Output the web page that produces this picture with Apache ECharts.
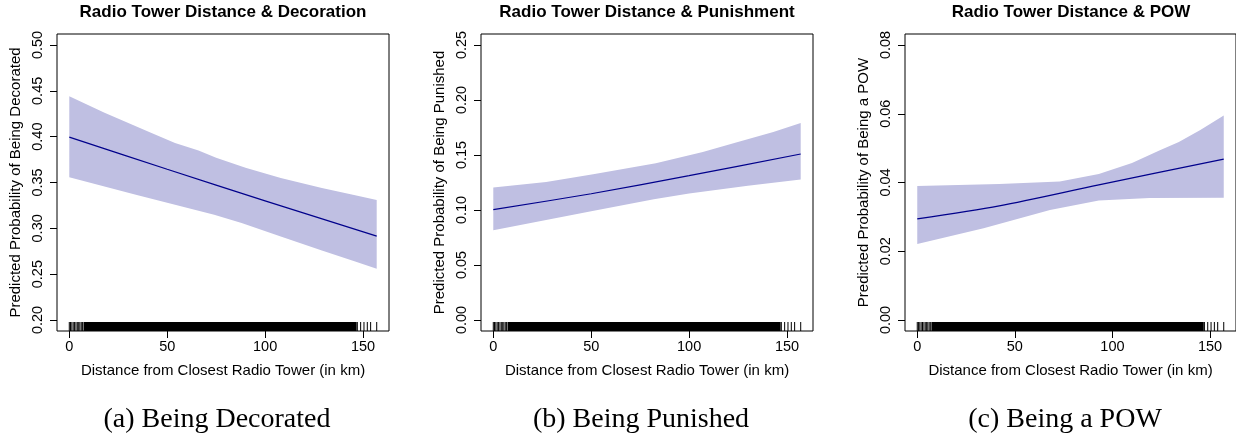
<!DOCTYPE html>
<html>
<head>
<meta charset="utf-8">
<script src="https://cdn.jsdelivr.net/npm/echarts@6/dist/echarts.min.js"></script>
<style>
  html, body { margin: 0; padding: 0; background: #fff; }
  #main { width: 1236px; height: 440px; }
</style>
</head>
<body>
<div id="main"></div>
<script>
const titles = ['Radio Tower Distance & Decoration', 'Radio Tower Distance & Punishment', 'Radio Tower Distance & POW']
const yNames = ['Predicted Probability of Being Decorated', 'Predicted Probability of Being Punished', 'Predicted Probability of Being a POW']
const captions = ['(a) Being Decorated', '(b) Being Punished', '(c) Being a POW']
const xName = 'Distance from Closest Radio Tower (in km)'
const xTicks = [0, 50, 100, 150]
const yTicksDec = [0.2, 0.25, 0.3, 0.35, 0.4, 0.45, 0.5]
const yTicksPun = [0, 0.05, 0.1, 0.15, 0.2, 0.25]
const yTicksPow = [0, 0.02, 0.04, 0.06, 0.08]

// [km, predicted probability]
const decFit = [[0, 0.3995], [50, 0.3645], [100, 0.3300], [157, 0.2915]]
const decUpper = [[0, 0.444], [18, 0.426], [42, 0.404], [54, 0.393], [66, 0.385], [75, 0.377], [90, 0.366], [108, 0.355], [129, 0.344], [146, 0.336], [157, 0.331]]
const decLower = [[0, 0.3556], [34, 0.3366], [74, 0.3148], [88, 0.3057], [108, 0.2911], [129, 0.2758], [146, 0.2638], [157, 0.2558]]

const punFit = [[0, 0.1003], [50, 0.1148], [100, 0.1312], [157, 0.1509]]
const punUpper = [[0, 0.1204], [27, 0.1255], [51, 0.1325], [83, 0.1425], [107, 0.1528], [124, 0.1614], [143, 0.171], [157, 0.1792]]
const punLower = [[0, 0.0815], [50, 0.0988], [82, 0.1097], [100, 0.115], [130, 0.122], [157, 0.1277]]

const powFit = [[0, 0.0294], [42, 0.0332], [93, 0.0393], [157, 0.0468]]
const powUpper = [[0, 0.039], [42, 0.0396], [73, 0.0403], [93, 0.0425], [110, 0.0457], [124, 0.0493], [134, 0.0518], [145, 0.0553], [157, 0.0595]]
const powLower = [[0, 0.0221], [34, 0.0267], [68, 0.032], [93, 0.0348], [119, 0.0355], [157, 0.0356]]

// rug of observed distances (same in all panels)
const rugSparse = [0, 0.6, 1.3, 2, 2.7, 3.4, 4.1, 4.8, 5.4, 6.1, 6.7, 147.1, 148.8, 150.5, 152.2, 153.9, 157]
const rugDense = [8, 9, 10, 11, 12, 13, 14, 15, 16, 17, 18, 19, 20, 21, 22, 23, 24, 25, 26, 27, 28, 29, 30,
  31, 32, 33, 34, 35, 36, 37, 38, 39, 40, 41, 42, 43, 44, 45, 46, 47, 48, 49, 50, 51, 52, 53, 54, 55,
  56, 57, 58, 59, 60, 61, 62, 63, 64, 65, 66, 67, 68, 69, 70, 71, 72, 73, 74, 75, 76, 77, 78, 79, 80,
  81, 82, 83, 84, 85, 86, 87, 88, 89, 90, 91, 92, 93, 94, 95, 96, 97, 98, 99, 100, 101, 102, 103, 104,
  105, 106, 107, 108, 109, 110, 111, 112, 113, 114, 115, 116, 117, 118, 119, 120, 121, 122, 123, 124,
  125, 126, 127, 128, 129, 130, 131, 132, 133, 134, 135, 136, 137, 138, 139, 140, 141, 142, 143, 144, 145, 146]

const bandColor = 'rgb(191,191,226)'
const fitColor = '#00008B'
const sans = '"Liberation Sans", Arial, sans-serif'

const panels = [
  { left: 57, ymin: 0.188, ymax: 0.512, yTicks: yTicksDec, fit: decFit, up: decUpper, lo: decLower, center: 223, capX: 217 },
  { left: 481, ymin: -0.01, ymax: 0.26, yTicks: yTicksPun, fit: punFit, up: punUpper, lo: punLower, center: 647, capX: 641 },
  { left: 905, ymin: -0.0032, ymax: 0.0832, yTicks: yTicksPow, fit: powFit, up: powUpper, lo: powLower, center: 1071, capX: 1065 }
]

const grid = [], xAxis = [], yAxis = [], series = [], graphic = []

panels.forEach((p, i) => {
  grid.push({ left: p.left, top: 34, width: 332, height: 297, show: true, borderColor: '#000', borderWidth: 1 })
  xAxis.push({
    type: 'value', gridIndex: i, min: -6.28, max: 163.28,
    name: xName, nameLocation: 'middle', nameGap: 32,
    nameTextStyle: { fontFamily: sans, fontSize: 15, color: '#000' },
    axisLine: { show: false, onZero: false }, splitLine: { show: false },
    axisTick: { show: true, length: 7, lineStyle: { color: '#000' }, customValues: xTicks },
    axisLabel: { customValues: xTicks, margin: 8, fontFamily: sans, fontSize: 14.5, color: '#000' }
  })
  yAxis.push({
    type: 'value', gridIndex: i, min: p.ymin, max: p.ymax,
    name: yNames[i], nameLocation: 'middle', nameGap: 34, nameRotate: 90,
    nameTextStyle: { fontFamily: sans, fontSize: 15, color: '#000' },
    axisLine: { show: false, onZero: false }, splitLine: { show: false },
    axisTick: { show: true, length: 7, lineStyle: { color: '#000' }, customValues: p.yTicks },
    axisLabel: { customValues: p.yTicks, rotate: 90, margin: 12, fontFamily: sans, fontSize: 14.5, color: '#000',
      formatter: v => v.toFixed(2) }
  })
  const up = p.up, lo = p.lo
  series.push({
    type: 'custom', xAxisIndex: i, yAxisIndex: i, silent: true, z: 1,
    data: [up[0]],
    renderItem: (params, api) => {
      const pts = up.map(d => api.coord(d)).concat(lo.slice().reverse().map(d => api.coord(d)))
      return { type: 'polygon', shape: { points: pts }, style: { fill: bandColor } }
    }
  })
  series.push({
    type: 'line', xAxisIndex: i, yAxisIndex: i, data: p.fit, smooth: 0.3, symbol: 'none', z: 3,
    lineStyle: { color: fitColor, width: 1.2 }
  })
  const ymin = p.ymin
  const rug = (vals, w) => ({
    type: 'custom', xAxisIndex: i, yAxisIndex: i, silent: true, z: 4,
    data: vals.map(v => [v, ymin]),
    renderItem: (params, api) => {
      const c = api.coord([api.value(0), ymin])
      return { type: 'line', shape: { x1: c[0], y1: c[1], x2: c[0], y2: c[1] - 9 }, style: { stroke: '#000', lineWidth: w } }
    }
  })
  series.push(rug(rugDense, 3))
  series.push(rug(rugSparse, 1))

  graphic.push({ type: 'text', x: p.center, y: 12,
    style: { text: titles[i], font: 'bold 17px ' + sans, fill: '#000', textAlign: 'center', textVerticalAlign: 'middle' } })
  graphic.push({ type: 'text', x: p.capX, y: 420,
    style: { text: captions[i], font: '28px "Liberation Serif", serif', fill: '#000', textAlign: 'center', textVerticalAlign: 'middle' } })
})

const myChart = echarts.init(document.getElementById('main'), null, { renderer: 'canvas' })
myChart.setOption({ animation: false, grid, xAxis, yAxis, series, graphic })
</script>
</body>
</html>
